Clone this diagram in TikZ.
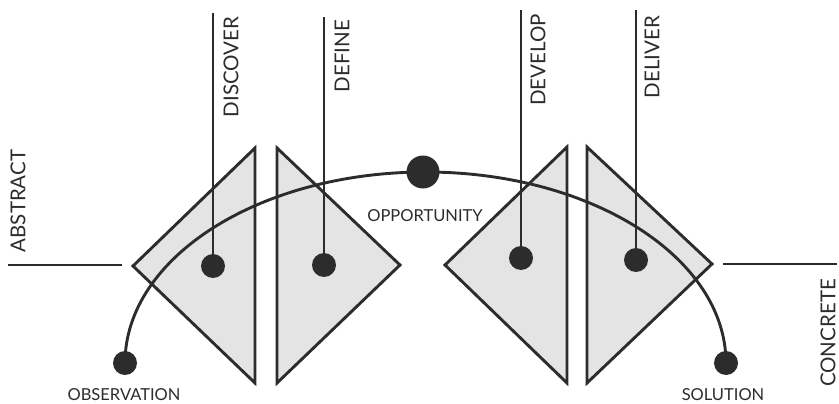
\documentclass[tikz,border=0pt]{standalone}
\usepackage{fontspec}
\setmainfont{Lato}
\definecolor{ink}{HTML}{2C2C2C}
\definecolor{wedge}{HTML}{E4E4E4}
\tikzset{
  stagedot/.style={circle,fill=ink,inner sep=0pt,minimum size=24pt},
  bigdot/.style={stagedot,minimum size=33pt},
  phase/.style={rotate=90,inner sep=0pt,text=ink,font=\fontsize{20.5}{21}\selectfont},
  endlabel/.style={inner sep=0pt,text=ink,font=\fontsize{16.5}{17}\selectfont},
  wedgeshape/.style={fill=wedge,draw=ink,line width=2.9pt,line join=miter},
  stem/.style={draw=ink,line width=2.9pt}
}
\begin{document}
\begin{tikzpicture}[x=1pt,y=-1pt]
\useasboundingbox (0,0) rectangle (839,404);

\draw[wedgeshape] (133,266) -- (255,148) -- (255,383) -- cycle;
\draw[wedgeshape] (277,148) -- (400,265) -- (277,383) -- cycle;
\draw[wedgeshape] (445,265) -- (567,147) -- (567,383) -- cycle;
\draw[wedgeshape] (587,147) -- (712,264) -- (587,383) -- cycle;

\node[stagedot] (obsdot) at (125,363) {};
\node[stagedot] (discoverdot) at (213,266) {};
\node[stagedot] (definedot) at (324,265) {};
\node[bigdot] (oppdot) at (423,172) {};
\node[stagedot] (developdot) at (521,258) {};
\node[stagedot] (deliverdot) at (636,260) {};
\node[stagedot] (soldot) at (726,363) {};

\coordinate (discovertop) at (213,13);
\coordinate (definetop) at (324,17);
\coordinate (developtop) at (521,10);
\coordinate (delivertop) at (636,10);
\coordinate (abstractend) at (8,265);
\coordinate (abstractstart) at (122,265);
\coordinate (concretestart) at (723,264);
\coordinate (concreteend) at (837,264);

\draw[stem] (obsdot.center) arc[start angle=180,end angle=360,x radius=300.5,y radius=191];
\draw[stem] (discoverdot) -- (discovertop);
\draw[stem] (definedot) -- (definetop);
\draw[stem] (developdot) -- (developtop);
\draw[stem] (deliverdot) -- (delivertop);
\draw[stem] (abstractend) -- (abstractstart);
\draw[stem] (concretestart) -- (concreteend);

\node[phase] (abstract) at (18,201) {ABSTRACT};
\node[phase] (discover) at (231,67) {DISCOVER};
\node[phase] (define) at (342,56) {DEFINE};
\node[phase] (develop) at (538,60) {DEVELOP};
\node[phase] (deliver) at (652,57) {DELIVER};
\node[phase] (concrete) at (828,333) {CONCRETE};

\node[endlabel] (observation) at (124,395) {OBSERVATION};
\node[endlabel] (opportunity) at (425,216) {OPPORTUNITY};
\node[endlabel] (solution) at (723,395) {SOLUTION};
\end{tikzpicture}
\end{document}
